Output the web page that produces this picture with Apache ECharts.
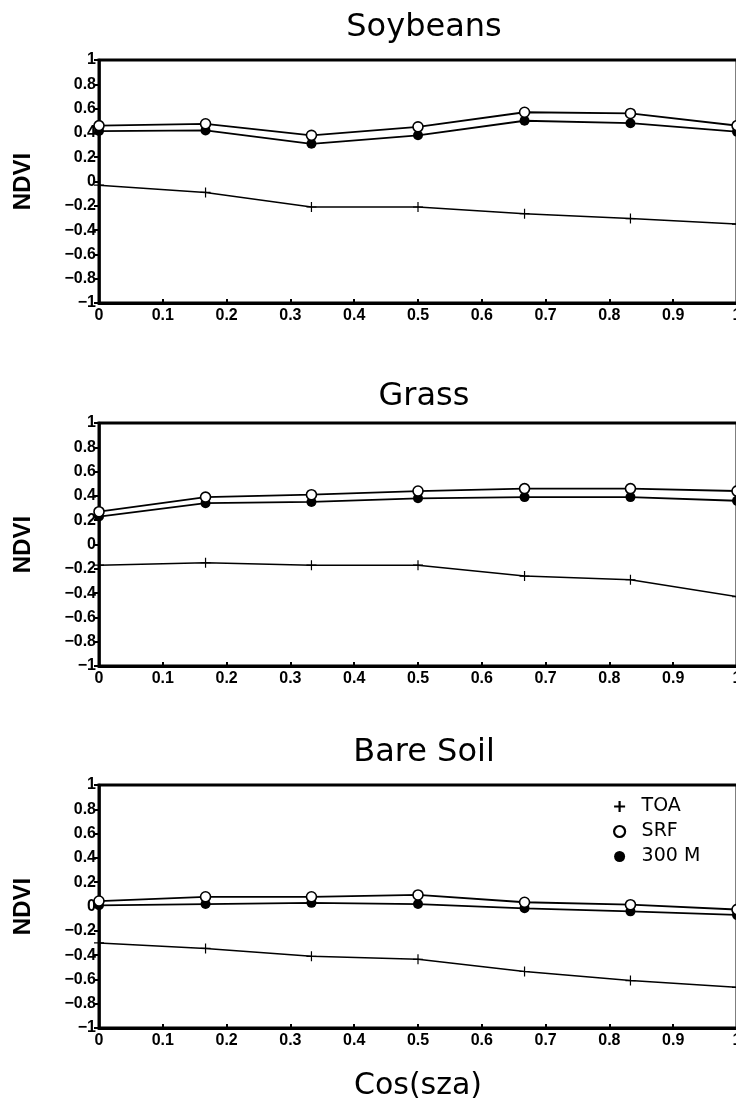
<!DOCTYPE html>
<html>
<head>
<meta charset="utf-8">
<script src="https://cdn.jsdelivr.net/npm/echarts@6/dist/echarts.min.js"></script>
<style>
html,body{margin:0;padding:0;background:#fff;overflow:hidden;}
#c{width:736px;height:1105px;}
</style>
</head>
<body>
<div id="c"></div>
<script>
// ---- data ----
const panelTitles = ['Soybeans', 'Grass', 'Bare Soil'];
const seriesNames = ['TOA', 'SRF', '300 M'];
const cosSza = [0, 0.167, 0.333, 0.5, 0.667, 0.833, 1];

const soyTOA = [-0.03, -0.09, -0.21, -0.21, -0.265, -0.305, -0.35];
const soySRF = [0.46, 0.475, 0.38, 0.45, 0.57, 0.56, 0.46];
const soy300 = [0.415, 0.42, 0.31, 0.38, 0.50, 0.48, 0.41];

const grassTOA = [-0.17, -0.15, -0.17, -0.17, -0.26, -0.29, -0.43];
const grassSRF = [0.27, 0.39, 0.41, 0.44, 0.46, 0.46, 0.44];
const grass300 = [0.23, 0.34, 0.35, 0.38, 0.39, 0.39, 0.36];

const soilTOA = [-0.30, -0.345, -0.41, -0.435, -0.535, -0.61, -0.665];
const soilSRF = [0.045, 0.08, 0.08, 0.095, 0.035, 0.015, -0.025];
const soil300 = [0.01, 0.02, 0.03, 0.02, -0.015, -0.04, -0.07];

const xTickLabels = ['0', '0.1', '0.2', '0.3', '0.4', '0.5', '0.6', '0.7', '0.8', '0.9', '1'];
const yTickLabels = ['\u22121', '\u22120.8', '\u22120.6', '\u22120.4', '\u22120.2', '0', '0.2', '0.4', '0.6', '0.8', '1'];
const yAxisName = 'NDVI';
const xAxisName = 'Cos(sza)';

// ---- layout ----
const panels = [
  { toa: soyTOA, srf: soySRF, m300: soy300 },
  { toa: grassTOA, srf: grassSRF, m300: grass300 },
  { toa: soilTOA, srf: soilSRF, m300: soil300 }
];
const gridTops = [60, 423, 785];
const titleTops = [7, 376, 732];
const gridH = 243;
const gridLeft = 99;
const gridW = 638;
const plusPath = 'path://M4.4,0h1.2v4.4h4.4v1.2h-4.4v4.4h-1.2v-4.4h-4.4v-1.2h4.4z';
const boldPlusPath = 'path://M4,0h2v4h4v2h-4v4h-2v-4h-4v-2h4z';

const tickFont = { fontFamily: 'Liberation Sans', fontWeight: 'bold', fontSize: 16, color: '#000' };

const grids = [], xAxes = [], yAxes = [], series = [], titles = [];
panels.forEach((p, i) => {
  grids.push({ left: gridLeft, top: gridTops[i], width: gridW, height: gridH,
    outerBoundsMode: 'none', containLabel: false,
    show: true, borderColor: '#000', borderWidth: 3, backgroundColor: 'transparent' });
  titles.push({ text: panelTitles[i], left: gridLeft + gridW / 2 + 1, top: titleTops[i],
    textAlign: 'center',
    textStyle: { fontFamily: 'DejaVu Sans', fontWeight: 'normal', fontSize: 32, color: '#000' } });
  xAxes.push({ type: 'value', gridIndex: i, min: 0, max: 1, interval: 0.1,
    axisLine: { show: true, onZero: false, lineStyle: { color: '#000', width: 3 } },
    axisTick: { show: true, inside: true, length: 4, lineStyle: { color: '#000', width: 2 } },
    splitLine: { show: false },
    axisLabel: Object.assign({ margin: 5, showMaxLabel: true, showMinLabel: true, hideOverlap: false,
      formatter: v => xTickLabels[Math.round(v * 10)] }, tickFont),
    name: i === 2 ? xAxisName : '', nameLocation: 'middle', nameGap: 43,
    nameTextStyle: { fontFamily: 'DejaVu Sans', fontSize: 30, color: '#000' } });
  yAxes.push({ type: 'value', gridIndex: i, min: -1, max: 1, interval: 0.2,
    axisLine: { show: true, onZero: false, lineStyle: { color: '#000', width: 2.5 } },
    axisTick: { show: true, inside: false, length: 5, lineStyle: { color: '#000', width: 2 } },
    splitLine: { show: false },
    axisLabel: Object.assign({ margin: 3, showMaxLabel: true, showMinLabel: true,
      formatter: v => yTickLabels[Math.round((v + 1) / 0.2)] }, tickFont),
    name: yAxisName, nameLocation: 'middle', nameGap: 64, nameRotate: 90,
    nameTextStyle: { fontFamily: 'Liberation Sans', fontWeight: 'bold', fontSize: 24, color: '#000' } });
  const mk = arr => cosSza.map((x, k) => [x, arr[k]]);
  series.push({ name: seriesNames[0], type: 'line', xAxisIndex: i, yAxisIndex: i, data: mk(p.toa),
    symbol: plusPath, symbolSize: 10, clip: false, z: 3,
    lineStyle: { color: '#000', width: 1.5 }, itemStyle: { color: '#000' }, animation: false });
  series.push({ name: seriesNames[2], type: 'line', xAxisIndex: i, yAxisIndex: i, data: mk(p.m300),
    symbol: 'circle', symbolSize: 10, clip: false, z: 3,
    lineStyle: { color: '#000', width: 1.8 }, itemStyle: { color: '#000' }, animation: false });
  series.push({ name: seriesNames[1], type: 'line', xAxisIndex: i, yAxisIndex: i, data: mk(p.srf),
    symbol: 'circle', symbolSize: 10, clip: false, z: 4,
    lineStyle: { color: '#000', width: 1.8 },
    itemStyle: { color: '#fff', borderColor: '#000', borderWidth: 1.6 }, animation: false });
});

const chart = echarts.init(document.getElementById('c'), null, { renderer: 'canvas' });
chart.setOption({
  backgroundColor: '#fff',
  animation: false,
  title: titles,
  grid: grids,
  xAxis: xAxes,
  yAxis: yAxes,
  legend: {
    orient: 'vertical', left: 608, top: 791, itemWidth: 34, itemHeight: 11, itemGap: 4,
    selectedMode: false,
    textStyle: { fontFamily: 'DejaVu Sans', fontSize: 19, color: '#000', lineHeight: 21 },
    data: [
      { name: seriesNames[0], icon: boldPlusPath, itemStyle: { color: '#000', borderWidth: 0 } },
      { name: seriesNames[1], icon: 'circle', itemStyle: { color: '#fff', borderColor: '#000', borderWidth: 2.2 } },
      { name: seriesNames[2], icon: 'circle', itemStyle: { color: '#000', borderWidth: 0 } }
    ]
  },
  series: series
});
</script>
</body>
</html>
